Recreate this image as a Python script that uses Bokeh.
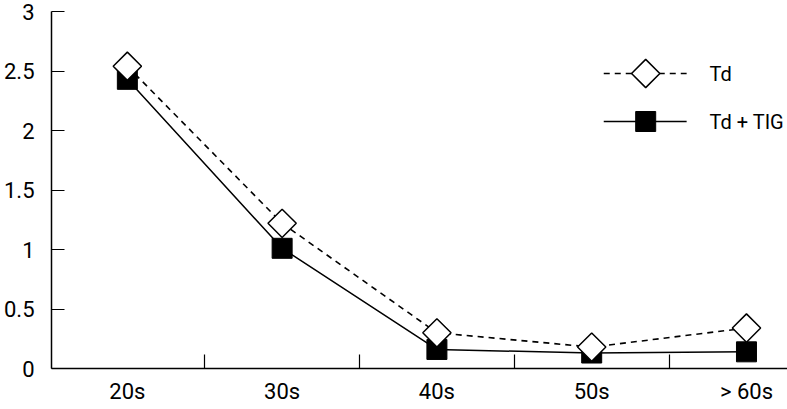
import math
from bokeh.plotting import figure
from bokeh.models import FixedTicker, Range1d
from bokeh.core.properties import value
from bokeh.embed import file_html
from bokeh.resources import INLINE

# ---- data ----
categories = ["20s", "30s", "40s", "50s", "> 60s"]
series_names = ["Td", "Td + TIG"]
td = [2.54, 1.22, 0.30, 0.18, 0.34]
td_tig = [2.43, 1.01, 0.16, 0.13, 0.14]
y_ticks = [0, 0.5, 1, 1.5, 2, 2.5, 3]
y_labels = ["0", "0.5", "1", "1.5", "2", "2.5", "3"]

# ---- style / layout ----
FONT = "Roboto"
W, H = 787, 409
LEFT, TOP, BOTTOM = 50, 11, 41
DASH = "6 5"
MSIZE = 20

xs = list(range(len(categories)))

p = figure(width=W, height=H, output_backend="svg", toolbar_location=None,
           x_range=Range1d(-0.49, 4.265), y_range=Range1d(0, 3),
           min_border_left=LEFT, min_border_right=0, min_border_top=TOP,
           min_border_bottom=BOTTOM)
p.outline_line_color = None
p.xgrid.visible = False
p.ygrid.visible = False

# pixel-space ranges used only to place the legend keys
p.extra_x_ranges = {"px": Range1d(LEFT, W)}
p.extra_y_ranges = {"px": Range1d(H - BOTTOM, TOP)}

# x axis
p.xaxis.ticker = FixedTicker(ticks=xs, minor_ticks=[i + 0.5 for i in xs[:-1]])
p.xaxis.major_label_overrides = {i: c for i, c in zip(xs, categories)}
p.xaxis.major_tick_in = 0
p.xaxis.major_tick_out = 0
p.xaxis.minor_tick_in = 14
p.xaxis.minor_tick_out = 0
p.xaxis.minor_tick_line_color = "black"
p.xaxis.minor_tick_line_width = 1.2
p.xaxis.axis_line_width = 1.5
p.xaxis.axis_line_color = "black"
p.xaxis.major_label_text_font = FONT
p.xaxis.major_label_text_font_size = "22px"
p.xaxis.major_label_text_color = "black"
p.xaxis.major_label_standoff = 10

# y axis
p.yaxis.ticker = FixedTicker(ticks=y_ticks, minor_ticks=[])
p.yaxis.major_label_overrides = {t: l for t, l in zip(y_ticks, y_labels)}
p.yaxis.major_tick_in = 13
p.yaxis.major_tick_out = 0
p.yaxis.major_tick_line_width = 1.2
p.yaxis.axis_line_width = 1.5
p.yaxis.axis_line_color = "black"
p.yaxis.major_label_text_font = FONT
p.yaxis.major_label_text_font_size = "22px"
p.yaxis.major_label_text_color = "black"
p.yaxis.major_label_standoff = 17

# data
p.line(xs, td_tig, line_color="black", line_width=1.5)
p.scatter(xs, td_tig, marker="square", size=MSIZE, fill_color="black", line_color="black")
p.line(xs, td, line_color="black", line_width=1.6, line_dash=DASH)
p.scatter(xs, td, marker="square", angle=math.pi / 4, size=MSIZE,
          fill_color="white", line_color="black", line_width=1.5)

# legend (keys placed in pixel space)
KEY_X0, KEY_X1, KEY_XM, TEXT_X = 603, 686, 645, 709
ROW_Y = [73, 121]
p.segment(x0=[KEY_X0], y0=[ROW_Y[0]], x1=[KEY_X1], y1=[ROW_Y[0]],
          x_range_name="px", y_range_name="px",
          line_color="black", line_width=1.6, line_dash=DASH)
p.segment(x0=[KEY_X0], y0=[ROW_Y[1]], x1=[KEY_X1], y1=[ROW_Y[1]],
          x_range_name="px", y_range_name="px",
          line_color="black", line_width=1.5)
p.scatter(x=[KEY_XM], y=[ROW_Y[0]], marker="square", angle=math.pi / 4, size=MSIZE,
          fill_color="white", line_color="black", line_width=1.5,
          x_range_name="px", y_range_name="px")
p.scatter(x=[KEY_XM], y=[ROW_Y[1]], marker="square", size=MSIZE,
          fill_color="black", line_color="black",
          x_range_name="px", y_range_name="px")
p.text(x=[TEXT_X, TEXT_X], y=ROW_Y, text=series_names,
       x_range_name="px", y_range_name="px",
       text_font=value(FONT), text_font_size="20px", text_color="black",
       text_baseline="middle", text_align="left")

open("out.html", "w").write(file_html(p, INLINE))
